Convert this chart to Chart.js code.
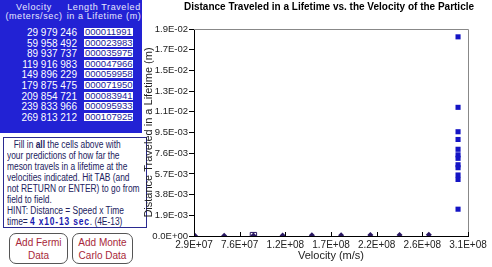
<!DOCTYPE html>
<html>
<head>
<meta charset="utf-8">
<script src="https://cdn.jsdelivr.net/npm/chart.js@4/dist/chart.umd.min.js"></script>
<style>
  body { margin: 0; background: #fff; width: 492px; height: 267px; overflow: hidden; position: relative;
         font-family: "Liberation Sans", Arial, sans-serif; }
  #panel { position: absolute; left: 0; top: 0; width: 142px; height: 133px; background: #2222d4; color: #e8e8ff; }
  .hd { position: absolute; font-size: 9px; line-height: 9px; letter-spacing: 0.6px; text-align: center; white-space: nowrap; }
  .vel { position: absolute; right: 65px; font-size: 10px; line-height: 9px; color: #fff; white-space: nowrap; }
  .cell { position: absolute; left: 84px; width: 49px; height: 8px; background: #fff; color: #1a1a9a;
          font-size: 9.5px; line-height: 8px; overflow: hidden; white-space: nowrap; padding-left: 1px; box-sizing: border-box; }
  #note { position: absolute; left: 3px; top: 137px; width: 144px; height: 91px; border: 1px solid #2a2a90; box-sizing: border-box;
          color: #22225e; }
  #note .in { position: absolute; left: 3px; top: 1px; width: 160px; transform: scaleX(0.84); transform-origin: 0 0;
              font-size: 10px; line-height: 11px; white-space: nowrap; }
  #note .c { padding-left: 8px; }
  #note b.blu { color: #1818b0; letter-spacing: 1px; }
  .btn { position: absolute; top: 233px; height: 31px; border: 1px solid #555; border-radius: 7px; box-sizing: border-box;
         color: #a8283a; font-size: 10px; line-height: 13px; text-align: center; padding-top: 2px; background: #fff; }
  #wrap { position: absolute; left: 142px; top: 0; width: 374px; height: 267px; }
</style>
</head>
<body>
<div id="panel">
  <div class="hd" style="left:4px;top:3px;width:60px">Velocity<br>(meters/sec)</div>
  <div class="hd" style="left:66px;top:3px;width:76px">Length Traveled<br>in a Lifetime (m)</div>
</div>
<div id="note"><div class="in">
  <div class="c">Fill in <b>all</b> the cells above with</div>
  <div>your predictions of how far the</div>
  <div>meson travels in a lifetime at the</div>
  <div>velocities indicated. Hit TAB (and</div>
  <div>not RETURN or ENTER) to go from</div>
  <div>field to field.</div>
  <div>HINT: Distance = Speed x Time</div>
  <div>time= <b class="blu">4 x10-13 sec</b>. (4E-13)</div>
</div></div>
<div class="btn" style="left:9px;width:59px">Add Fermi<br>Data</div>
<div class="btn" style="left:72px;width:61px">Add Monte<br>Carlo Data</div>
<div id="wrap"><canvas id="chart"></canvas></div>
<script>
// meson velocities (m/s) and predicted lengths (m) typed into the table
const velocities = [29979246, 59958492, 89937737, 119916983, 149896229, 179875475, 209854721, 239833966, 269813212];
const predictedLengths = [0.000011991, 0.000023983, 0.000035975, 0.000047966, 0.000059958, 0.000071950, 0.000083941, 0.000095933, 0.000107925];
const selectedIndex = 2;

// Fermi data, all near the speed of light
const fermiVelocities = [299792458, 299792458, 299792458, 299792458, 299792458, 299792458, 299792458, 299792458, 299792458, 299792458, 299792458, 299792458];
const fermiLengths = [0.01828, 0.01181, 0.00957, 0.00886, 0.00796, 0.00745, 0.00713, 0.00654, 0.00627, 0.00560, 0.00519, 0.00246];

const xTicks = [29000000, 75833333, 122666667, 169500000, 216333333, 263166667, 310000000];
const yTicks = [0, 0.0019, 0.0038, 0.0057, 0.0076, 0.0095, 0.0114, 0.0133, 0.0152, 0.0171, 0.019];

// table on the left
const panel = document.getElementById('panel');
velocities.forEach((v, i) => {
  const top = 28 + i * 10.6;
  const vel = document.createElement('div');
  vel.className = 'vel';
  vel.style.top = top + 'px';
  vel.textContent = String(v).replace(/\B(?=(\d{3})+(?!\d))/g, ' ');
  panel.appendChild(vel);
  const cell = document.createElement('div');
  cell.className = 'cell';
  cell.style.top = top + 'px';
  cell.textContent = predictedLengths[i].toFixed(9).slice(2);
  panel.appendChild(cell);
});

function sci(v) {
  const [m, e] = Number(v).toExponential(1).split('e');
  const n = Math.abs(parseInt(e));
  return m + 'E' + (parseInt(e) < 0 ? '-' : '+') + (n < 10 ? '0' : '') + n;
}

const framePlugin = {
  id: 'frame',
  afterDraw(chart) {
    const { ctx, chartArea: a, scales } = chart;
    ctx.save();
    ctx.strokeStyle = '#888';
    ctx.lineWidth = 1;
    ctx.beginPath();
    ctx.moveTo(a.left, a.top + 0.5);
    ctx.lineTo(a.right + 0.5, a.top + 0.5);
    ctx.lineTo(a.right + 0.5, a.bottom);
    ctx.stroke();
    // short ticks pointing up into the plot
    ctx.strokeStyle = '#000';
    ctx.beginPath();
    scales.x.ticks.forEach(t => {
      const px = Math.round(scales.x.getPixelForValue(t.value)) + 0.5;
      ctx.moveTo(px, a.bottom);
      ctx.lineTo(px, a.bottom - 4);
    });
    ctx.stroke();
    ctx.restore();
  }
};

const tickFont = { family: '"Liberation Sans", Arial, sans-serif', size: 10 };

new Chart(document.getElementById('chart'), {
  type: 'scatter',
  data: {
    datasets: [{
      label: 'Predictions',
      data: velocities.map((v, i) => ({ x: v, y: predictedLengths[i] })),
      pointStyle: 'rectRot',
      radius: 3,
      backgroundColor: '#2a1862',
      borderColor: '#2a1862',
      borderWidth: 0
    }, {
      label: 'Selected',
      data: [{ x: velocities[selectedIndex], y: predictedLengths[selectedIndex] }],
      pointStyle: 'rect',
      radius: 4.5,
      backgroundColor: 'rgba(0,0,0,0)',
      borderColor: '#2a1862',
      borderWidth: 1
    }, {
      label: 'Fermi Data',
      data: fermiVelocities.map((v, i) => ({ x: v, y: fermiLengths[i] })),
      pointStyle: 'rect',
      radius: 3.6,
      backgroundColor: '#1414c4',
      borderWidth: 0
    }]
  },
  options: {
    responsive: true,
    maintainAspectRatio: false,
    animation: false,
    layout: { padding: 0 },
    plugins: {
      legend: { display: false },
      tooltip: { enabled: false },
      title: {
        display: true,
        text: 'Distance Traveled in a Lifetime vs. the Velocity of the Particle',
        color: '#000',
        font: { family: '"Liberation Sans", Arial, sans-serif', size: 10, weight: 'bold' },
        padding: { top: 1, bottom: 16 }
      }
    },
    scales: {
      x: {
        type: 'linear',
        min: 29000000,
        max: 310000000,
        afterBuildTicks: s => { s.ticks = xTicks.map(v => ({ value: v })); },
        afterFit: s => { s.height = 31; },
        ticks: { callback: v => sci(v), color: '#222', font: tickFont, maxRotation: 0, autoSkip: false, padding: 3 },
        grid: { drawOnChartArea: false, drawTicks: false },
        border: { color: '#000', width: 1 },
        title: { display: true, text: 'Velocity (m/s)', color: '#222', font: { ...tickFont, size: 11 }, padding: { top: 0, bottom: 4 } }
      },
      y: {
        min: 0,
        max: 0.019,
        afterBuildTicks: s => { s.ticks = yTicks.map(v => ({ value: v })); },
        afterFit: s => { s.width = 52; },
        ticks: { callback: v => sci(v), color: '#222', font: { ...tickFont, size: 9.5 }, padding: 1 },
        grid: { drawOnChartArea: false, tickLength: 5, color: '#000' },
        border: { color: '#000', width: 1 },
        title: { display: true, text: 'Distance Traveled in a Lifetime (m)', color: '#222', font: { ...tickFont, size: 11 }, padding: { top: 0, bottom: 2 } }
      },
      // empty right-hand strip so the plot ends where the original does
      yRight: {
        position: 'right',
        min: 0,
        max: 1,
        afterFit: s => { s.width = 48; },
        ticks: { display: false },
        grid: { display: false },
        border: { display: false }
      }
    }
  },
  plugins: [framePlugin]
});
</script>
</body>
</html>
